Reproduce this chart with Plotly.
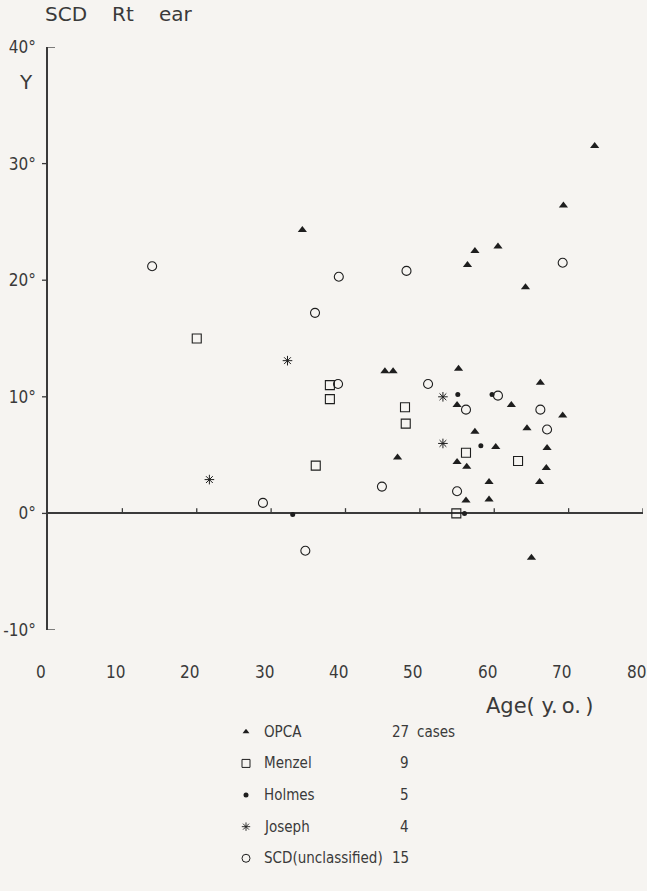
import plotly.graph_objects as go

# ---------------- data ----------------
x_ticks = [0, 10, 20, 30, 40, 50, 60, 70, 80]
y_ticks = [-10, 0, 10, 20, 30, 40]
y_ticktext = ["-10°", "0°", "10°", "20°", "30°", "40°"]

opca_age = [34.2, 73.5, 69.3, 57.4, 60.5, 56.4, 64.2, 45.3, 46.4, 55.2, 66.2, 55.0, 62.3,
            69.2, 57.4, 64.4, 60.2, 67.1, 47.0, 55.0, 56.3, 67.0, 59.3, 66.1, 56.2, 59.3, 65.0]
opca_y = [24.3, 31.5, 26.4, 22.5, 22.9, 21.3, 19.4, 12.2, 12.2, 12.4, 11.2, 9.3, 9.3,
          8.4, 7.0, 7.3, 5.7, 5.6, 4.8, 4.4, 4.0, 3.9, 2.7, 2.7, 1.1, 1.2, -3.8]

menzel_age = [37.9, 37.9, 36.0, 48.0, 48.1, 56.2, 63.2, 54.9, 20.0]
menzel_y = [11.0, 9.8, 4.1, 9.1, 7.7, 5.2, 4.5, 0.0, 15.0]

holmes_age = [32.9, 55.1, 59.7, 58.2, 56.0]
holmes_y = [-0.1, 10.2, 10.2, 5.8, 0.0]

joseph_age = [21.7, 32.2, 53.1, 53.1]
joseph_y = [2.9, 13.1, 10.0, 6.0]

scd_age = [14.0, 39.1, 48.2, 69.2, 35.9, 39.0, 51.1, 60.5, 56.2, 66.2, 67.1, 44.9, 55.0, 28.9, 34.6]
scd_y = [21.2, 20.3, 20.8, 21.5, 17.2, 11.1, 11.1, 10.1, 8.9, 8.9, 7.2, 2.3, 1.9, 0.9, -3.2]

group_names = ["OPCA", "Menzel", "Holmes", "Joseph", "SCD(unclassified)"]
group_counts = ["27", "9", "5", "4", "15"]
count_unit = "cases"
title_words = ["SCD", "Rt", "ear"]

# ---------------- style ----------------
W, H = 647, 891
ML, MR, MT, MB = 48, 4, 47, 0
BG = "#f6f4f1"
INK = "#1e1e1e"
AX = "#3a3a3a"
TXT = "#3a3a3a"
NARROW = "Liberation Sans Narrow, DejaVu Sans Condensed, Roboto, sans-serif"
WIDE = "DejaVu Sans, Verdana, sans-serif"

PLOT_W = W - ML - MR
PLOT_H = H - MT - MB
MAIN_BOTTOM_PX = 637
LEG_TOP_PX = 700


def px(x):
    return (x - ML) / PLOT_W


def py(y):
    return (H - MB - y) / PLOT_H


styles = [
    dict(symbol="triangle-up", size=8, lw=0),
    dict(symbol="square-open", size=9, lw=1.1),
    dict(symbol="circle", size=5, lw=0),
    dict(symbol="asterisk-open", size=8, lw=1.0),
    dict(symbol="circle-open", size=9, lw=1.1),
]
leg_styles = [
    dict(symbol="triangle-up", size=6, lw=0),
    dict(symbol="square-open", size=8, lw=1.0),
    dict(symbol="circle", size=5, lw=0),
    dict(symbol="asterisk-open", size=7, lw=0.9),
    dict(symbol="circle-open", size=8, lw=1.0),
]
series = [(opca_age, opca_y), (menzel_age, menzel_y), (holmes_age, holmes_y),
          (joseph_age, joseph_y), (scd_age, scd_y)]

fig = go.Figure()
for (xs, ys), st, name in zip(series, styles, group_names):
    fig.add_trace(go.Scatter(
        x=xs, y=ys, mode="markers", name=name, showlegend=False,
        xaxis="x", yaxis="y", cliponaxis=False,
        marker=dict(symbol=st["symbol"], size=st["size"], color=INK,
                    line=dict(color=INK, width=st["lw"]))))

# ---------------- legend block (drawn below the chart) ----------------
leg_rows = [740, 772, 804, 836, 868]
leg_sym_x = 246
LEG_FONT = dict(family=NARROW, size=15, color=TXT)
annotations = []
for i, (name, cnt, st) in enumerate(zip(group_names, group_counts, leg_styles)):
    fig.add_trace(go.Scatter(
        x=[leg_sym_x], y=[leg_rows[i]], mode="markers", showlegend=False,
        xaxis="x2", yaxis="y2", hoverinfo="skip",
        marker=dict(symbol=st["symbol"], size=st["size"], color=INK,
                    line=dict(color=INK, width=st["lw"]))))
    annotations.append(dict(xref="paper", yref="paper", x=px(262), y=py(leg_rows[i]),
                            xanchor="left", yanchor="middle", showarrow=False,
                            text=name, font=LEG_FONT))
    annotations.append(dict(xref="paper", yref="paper", x=px(411), y=py(leg_rows[i]),
                            xanchor="right", yanchor="middle", showarrow=False,
                            text=cnt, font=LEG_FONT))
annotations.append(dict(xref="paper", yref="paper", x=px(415), y=py(leg_rows[0]),
                        xanchor="left", yanchor="middle", showarrow=False,
                        text=count_unit, font=LEG_FONT))

# x tick labels (set below the plot, as in the original)
for v in x_ticks:
    annotations.append(dict(xref="x", yref="paper", x=v, y=py(679), xanchor="center",
                            yanchor="middle", showarrow=False, text=str(v), xshift=-7,
                            font=dict(family=NARROW, size=17, color=TXT)))

# title words, axis names
for word, left in zip(title_words, [43, 110, 157]):
    annotations.append(dict(xref="paper", yref="paper", x=px(left), y=py(14), xanchor="left",
                            yanchor="middle", showarrow=False, text=word,
                            font=dict(family=WIDE, size=20, color=TXT)))
annotations += [
    dict(xref="paper", yref="paper", x=px(26), y=py(82), xanchor="center", yanchor="middle",
         showarrow=False, text="Y", font=dict(family=WIDE, size=20, color=TXT)),
    dict(xref="paper", yref="paper", x=px(484), y=py(714), xanchor="left", yanchor="middle",
         showarrow=False, text="Age(\u00a0y.\u2009o.\u2009)",
         font=dict(family=WIDE, size=21, color=TXT)),
]

# ---------------- axis furniture ----------------
shapes = []
for v in x_ticks[1:]:
    shapes.append(dict(type="line", xref="x", yref="y", x0=v, x1=v, y0=0, y1=0.45,
                       line=dict(color=AX, width=1.3)))
for v in y_ticks[1:-1]:
    shapes.append(dict(type="line", xref="paper", yref="y", x0=px(ML - 6), x1=px(ML),
                       y0=v, y1=v, line=dict(color=AX, width=1.3)))
for v in (y_ticks[0], y_ticks[-1]):
    shapes.append(dict(type="line", xref="paper", yref="y", x0=px(ML), x1=px(ML + 7),
                       y0=v, y1=v, line=dict(color=AX, width=1.3)))

main_dom_bottom = py(MAIN_BOTTOM_PX)
leg_dom_top = py(LEG_TOP_PX)

fig.update_layout(
    width=W, height=H,
    margin=dict(l=ML, r=MR, t=MT, b=MB, pad=0),
    paper_bgcolor=BG, plot_bgcolor=BG,
    showlegend=False,
    xaxis=dict(domain=[0, 1], range=[0, 80], anchor="y", showgrid=False, zeroline=False,
               showline=False, ticks="", showticklabels=False),
    yaxis=dict(domain=[main_dom_bottom, 1], range=[-10, 40], anchor="x", showgrid=False,
               showline=True, linecolor=AX, linewidth=1.5,
               zeroline=True, zerolinecolor=AX, zerolinewidth=1.5,
               ticks="", tickmode="array", tickvals=y_ticks, ticktext=y_ticktext,
               ticklabelstandoff=7, tickfont=dict(family=NARROW, size=17, color=TXT)),
    xaxis2=dict(domain=[0, 1], range=[ML, W - MR], anchor="y2", visible=False),
    yaxis2=dict(domain=[0, leg_dom_top], range=[H - MB, LEG_TOP_PX], anchor="x2", visible=False),
    annotations=annotations,
    shapes=shapes,
)

fig.write_html("out.html")
